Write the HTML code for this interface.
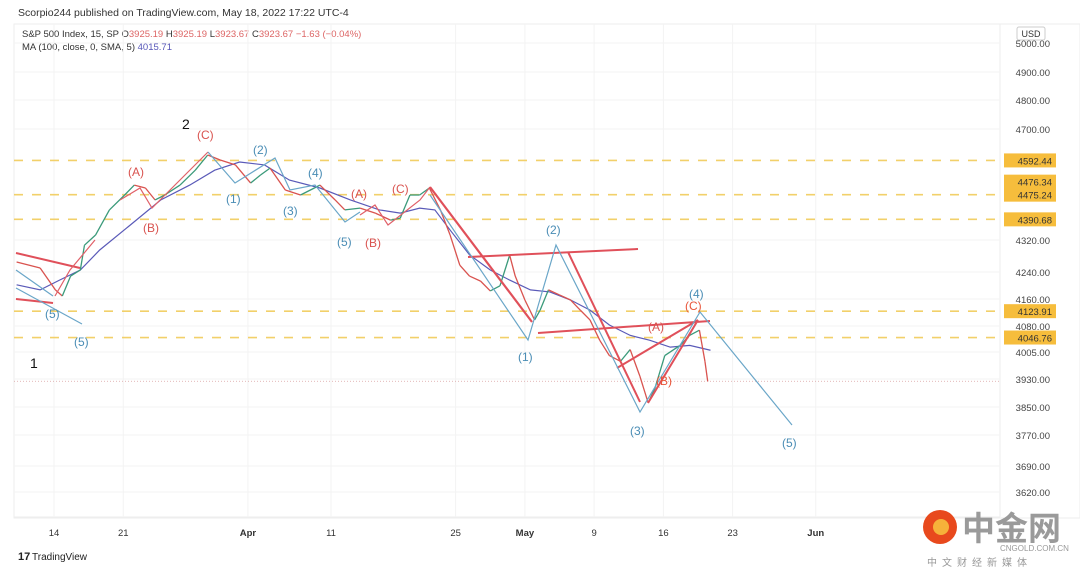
<!DOCTYPE html>
<html><head><meta charset="utf-8">
<style>
body{margin:0;width:1080px;height:578px;background:#fff;overflow:hidden;font-family:"Liberation Sans",sans-serif;}
svg{position:absolute;left:0;top:0}
</style></head>
<body>
<svg id="c" width="1080" height="578" xmlns="http://www.w3.org/2000/svg">
<text x="18" y="16" font-size="10.5" fill="#333">Scorpio244 published on TradingView.com, May 18, 2022 17:22 UTC-4</text>
<rect x="14" y="24" width="1066" height="494" fill="none" stroke="#eee"/>
<text x="22" y="37" font-size="9.5" fill="#333">S&amp;P 500 Index, 15, SP  O<tspan fill="#d66">3925.19</tspan>  H<tspan fill="#d66">3925.19</tspan>  L<tspan fill="#d66">3923.67</tspan>  C<tspan fill="#d66">3923.67</tspan>  <tspan fill="#d66">−1.63 (−0.04%)</tspan></text>
<text x="22" y="50" font-size="9.5" fill="#333">MA (100, close, 0, SMA, 5)  <tspan fill="#5656b8">4015.71</tspan></text>
<line x1="1000" y1="24" x2="1000" y2="517" stroke="#eee"/>
<line x1="14" y1="517" x2="1000" y2="517" stroke="#eee"/>
<rect x="1017" y="27" width="28" height="13" fill="#fff" stroke="#ccc" rx="2"/>
<text x="1031" y="37" font-size="9" fill="#333" text-anchor="middle">USD</text>
<g id="grid"></g><g id="levels"></g><g id="ma"></g><g id="price"></g>
<g id="draw" fill="none" stroke-width="1.2">
<path d="M16 253 L80 268 M16 299 L53 303" stroke="#e0505a" stroke-width="2"/>
<path d="M16 270 L53 296 M16 288 L82 324" stroke="#6aa6c8"/>
<path d="M55 296 L70 270 L95 240" stroke="#e06068"/>
<path d="M120 200 L140 188 L152 208 L165 195 L208 152" stroke="#e06068"/>
<path d="M208 152 L235 183 L275 158 L290 190 L315 185 L345 222 L360 212" stroke="#6aa6c8"/>
<path d="M360 215 L375 205 L388 225 L420 200 L430 187" stroke="#e06068"/>
<path d="M430 187 L532 322" stroke="#e0505a" stroke-width="2.2"/>
<path d="M468 257 L638 249 M538 333 L710 321 M568 252 L640 402 M617 368 L698 320 M648 403 L698 320" stroke="#e0505a" stroke-width="2"/>
<path d="M430 195 L528 340 L556 245 L640 412 L700 312 L792 425" stroke="#6aa6c8"/>
</g>
<g font-size="12">
<text x="45" y="318" fill="#4a8db5">(5)</text><text x="74" y="346" fill="#4a8db5">(5)</text>
<text x="30" y="368" fill="#111" font-size="14">1</text><text x="182" y="129" fill="#111" font-size="14">2</text>
<text x="197" y="139" fill="#d9534f">(C)</text><text x="253" y="154" fill="#4a8db5">(2)</text>
<text x="128" y="176" fill="#d9534f">(A)</text><text x="226" y="203" fill="#4a8db5">(1)</text>
<text x="308" y="177" fill="#4a8db5">(4)</text><text x="283" y="215" fill="#4a8db5">(3)</text>
<text x="143" y="232" fill="#d9534f">(B)</text><text x="351" y="198" fill="#d9534f">(A)</text>
<text x="392" y="193" fill="#d9534f">(C)</text><text x="337" y="246" fill="#4a8db5">(5)</text>
<text x="365" y="247" fill="#d9534f">(B)</text><text x="546" y="234" fill="#4a8db5">(2)</text>
<text x="518" y="361" fill="#4a8db5">(1)</text><text x="630" y="435" fill="#4a8db5">(3)</text>
<text x="689" y="298" fill="#4a8db5">(4)</text><text x="685" y="310" fill="#e8553a">(C)</text>
<text x="648" y="331" fill="#d9534f">(A)</text><text x="656" y="385" fill="#e8553a">(B)</text>
<text x="782" y="447" fill="#4a8db5">(5)</text>
</g>
<g id="axes"></g>
<g><text x="18" y="560" font-size="11" fill="#222" font-weight="bold">17</text><text x="32" y="560" font-size="10" fill="#222">TradingView</text></g>
<g>
<circle cx="940" cy="527" r="17" fill="#e8491d"/><circle cx="941" cy="527" r="8" fill="#f6b23a"/>
<text x="962" y="540" font-size="33" fill="#9a9a9a" font-family="'Noto Sans CJK SC',sans-serif" font-weight="bold">中金网</text>
<text x="1000" y="551" font-size="8" fill="#999">CNGOLD.COM.CN</text>
<text x="927" y="566" font-size="10" fill="#999" letter-spacing="5" font-family="'Noto Sans CJK SC',sans-serif">中文财经新媒体</text>
</g>
</svg>
<script>
const tickPrices=[5000,4900,4800,4700,4320,4240,4160,4080,4005,3930,3850,3770,3690,3620,3550];
const tickY=[43,72,100,129,240,272,299,326,352,379,407,435,466,492,518];
const levelPrices=[4592.44,4475.24,4390.68,4123.91,4046.76];
const levelLabels=["4592.44","4475.24","4390.68","4123.91","4046.76"];
const dateLabels=["14","21","Apr","11","25","May","9","16","23","Jun"];
const dateIdx=[0,5,14,20,29,34,39,44,49,55];
const priceT=[-2.7,-1.0,0.1,0.6,1.2,1.9,2.2,3.0,4.0,5.1,5.8,6.6,7.3,8.0,9.1,10.2,11.1,12.0,13.1,14.2,14.9,15.6,16.7,17.8,18.8,19.2,20.3,21.0,22.1,23.2,24.3,25.0,25.7,26.4,27.1,27.9,28.6,29.3,30.0,30.8,31.5,32.2,32.9,33.3,34.0,34.7,35.1,35.7,36.5,37.3,38.0,38.7,39.4,40.1,40.9,41.6,42.3,42.9,43.4,44.1,45.2,45.9,46.6,47.0,47.2];
const priceV=[4265,4250,4187,4169,4228,4245,4307,4337,4423,4474,4508,4498,4457,4474,4508,4559,4611,4594,4577,4515,4542,4566,4491,4474,4498,4508,4457,4423,4429,4412,4388,4395,4474,4474,4498,4423,4337,4257,4228,4213,4184,4199,4282,4228,4157,4098,4127,4187,4172,4157,4127,4098,4039,3995,3979,4012,3938,3862,3905,3995,4024,4053,4068,3979,3923];
const maT=[-2.7,-1.0,0.4,1.9,3.3,5.5,7.7,9.8,11.6,13.4,15.2,17.0,19.2,21.4,23.5,25.0,26.4,27.5,28.6,30.0,31.5,32.9,34.4,35.8,37.3,38.7,40.1,41.6,43.0,44.5,45.9,47.4];
const maV=[4202,4187,4216,4245,4295,4371,4457,4508,4559,4587,4577,4525,4498,4457,4423,4412,4429,4423,4354,4283,4245,4216,4187,4181,4157,4127,4083,4053,4039,4019,4024,4010];
const lastPrice=3923.67;
const NS="http://www.w3.org/2000/svg";
function X(t){return 54+13.85*t;}
function Y(p){for(let i=0;i<tickPrices.length-1;i++){const a=tickPrices[i],b=tickPrices[i+1];if(p<=a&&p>=b)return tickY[i]+(a-p)/(a-b)*(tickY[i+1]-tickY[i]);}
 return p>tickPrices[0]?tickY[0]:tickY[tickY.length-1];}
function mk(tag,at,parent){const e=document.createElementNS(NS,tag);for(const k in at)e.setAttribute(k,at[k]);document.getElementById(parent).appendChild(e);return e;}
tickPrices.forEach((p,i)=>{
 if(i===tickPrices.length-1)return;
 const g=mk('line',{x1:14,x2:1000,y1:Y(p),y2:Y(p),stroke:'#f3f3f3'},'grid');
 
 
 const t=mk('text',{x:1050,y:Y(p)+4,'font-size':9.5,fill:'#444','text-anchor':'end'},'axes');
 t.textContent=p.toFixed(2);
 
 
});
dateLabels.forEach((d,i)=>{
 const g=mk('line',{x1:X(dateIdx[i]),x2:X(dateIdx[i]),y1:24,y2:517,stroke:'#f3f3f3'},'grid');
 
 
 const bold=isNaN(+d);
 const t=mk('text',{x:X(dateIdx[i]),y:536,'font-size':9.5,fill:'#333','text-anchor':'middle','font-weight':bold?'bold':'normal'},'axes');
 t.textContent=d;
 
 
});
levelPrices.forEach((p,i)=>{
 const l=mk('line',{x1:14,x2:1000,y1:Y(p),y2:Y(p),stroke:'#f0c850','stroke-width':1.6,'stroke-dasharray':'9 9','stroke-opacity':0.85},'levels');
 
 
 const r=mk('rect',{x:1004,y:Y(p)-7,width:52,height:14,fill:'#f6bd3c'},'axes');
 
 
 const t=mk('text',{x:1052,y:Y(p)+4,'font-size':9.5,fill:'#333','text-anchor':'end'},'axes');
 t.textContent=levelLabels[i];
 
 
});
const rb=mk('rect',{x:1004,y:Y(4475.24)-20,width:52,height:14,fill:'#f6bd3c'},'axes');


const rt=mk('text',{x:1052,y:Y(4475.24)-9,'font-size':9.5,fill:'#333','text-anchor':'end'},'axes');
rt.textContent='4476.34';


const cl=mk('line',{x1:14,x2:1000,y1:Y(lastPrice),y2:Y(lastPrice),stroke:'#d9a0a0','stroke-width':0.8,'stroke-dasharray':'1 2'},'levels');


const ma=mk('polyline',{points:maT.map((t,i)=>X(t)+','+Y(maV[i])).join(' '),fill:'none',stroke:'#5a5ab8','stroke-width':1.2},'ma');


for(let i=1;i<priceT.length;i++){
 const up=priceV[i]>=priceV[i-1];
 const s=mk('line',{x1:X(priceT[i-1]),y1:Y(priceV[i-1]),x2:X(priceT[i]),y2:Y(priceV[i]),stroke:up?'#3a9a7a':'#d9534f','stroke-width':1.3},'price');
 
 
}
</script>
</body></html>
